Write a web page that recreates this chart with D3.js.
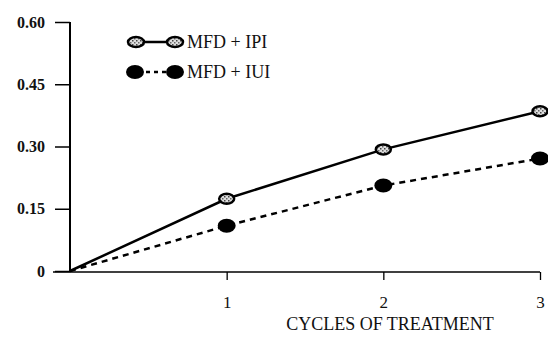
<!DOCTYPE html>
<html><head><meta charset="utf-8">
<script src="https://cdn.jsdelivr.net/npm/d3@7"></script>
<style>body{margin:0;background:#fff}svg{display:block}text{font-family:"Liberation Serif","DejaVu Serif",serif;fill:#111}</style>
</head><body><svg id="c" width="548" height="339"></svg>
<script>
const cycles = [0, 1, 2, 3];
const ipi = [0, 0.174, 0.293, 0.385];
const iui = [0, 0.109, 0.206, 0.271];
const yTicks = [0, 0.15, 0.30, 0.45, 0.60];
const yTickLabels = ["0", "0.15", "0.30", "0.45", "0.60"];
const xTicks = [1, 2, 3];
const seriesNames = ["MFD + IPI", "MFD + IUI"];

const svg = d3.select("#c");
const x = d3.scaleLinear().domain([0, 3]).range([70, 540]);
const y = d3.scaleLinear().domain([0, 0.6]).range([271, 22]);

const defs = svg.append("defs");
const pat = defs.append("pattern").attr("id","speck").attr("width",4).attr("height",4).attr("patternUnits","userSpaceOnUse");
pat.append("rect").attr("width",4).attr("height",4).attr("fill","#ddd");
pat.append("rect").attr("x",0).attr("y",0).attr("width",1.5).attr("height",1.5).attr("fill","#444");
pat.append("rect").attr("x",2).attr("y",2).attr("width",1.5).attr("height",1.5).attr("fill","#666");

// Y axis
const yAxis = svg.append("g").attr("transform", `translate(${x(0)},0)`)
  .call(d3.axisLeft(y).tickValues(yTicks).tickFormat((d,i)=>yTickLabels[i]).tickSize(15).tickPadding(10));
yAxis.select(".domain").attr("stroke","#000").attr("stroke-width",2).attr("d", `M0,${y(0)+1}V${y(0.6)}`);
yAxis.selectAll(".tick line").attr("stroke","#000").attr("stroke-width",1.5);
yAxis.selectAll("text").style("font-size","16px").style("font-weight","bold").attr("fill","#111");

// X axis
const xAxis = svg.append("g").attr("transform", `translate(0,${y(0)+1})`)
  .call(d3.axisBottom(x).tickValues(xTicks).tickFormat(d3.format("d")).tickSize(8).tickPadding(16));
xAxis.select(".domain").attr("stroke","#000").attr("stroke-width",1.5).attr("d", `M${x(0)-17},0H${x(3)}`);
xAxis.selectAll(".tick line").attr("stroke","#000").attr("stroke-width",1.3);
xAxis.selectAll("text").style("font-size","17px").attr("fill","#111");

svg.append("text").attr("x", 390).attr("y", 330).attr("text-anchor","middle")
  .style("font-size","18px").text("CYCLES OF TREATMENT");

const line = d3.line().x((d,i)=>x(cycles[i])).y(d=>y(d));
svg.append("path").datum(iui).attr("d", line).attr("fill","none").attr("stroke","#000")
  .attr("stroke-width",2.5).attr("stroke-dasharray","6,5");
svg.append("path").datum(ipi).attr("d", line).attr("fill","none").attr("stroke","#000")
  .attr("stroke-width",2.5);

const pts = cycles.slice(1);
svg.selectAll(".m1").data(pts).enter().append("ellipse")
  .attr("cx", d=>x(d)).attr("cy", (d)=>y(iui[d])).attr("rx",9).attr("ry",7).attr("fill","#000");
svg.selectAll(".m2").data(pts).enter().append("ellipse")
  .attr("cx", d=>x(d)).attr("cy", (d)=>y(ipi[d])).attr("rx",7.5).attr("ry",5)
  .attr("fill","url(#speck)").attr("stroke","#000").attr("stroke-width",2.5);

// Legend
const lg = svg.append("g");
lg.append("line").attr("x1",136).attr("x2",175).attr("y1",42).attr("y2",42).attr("stroke","#000").attr("stroke-width",2.5);
[136,175].forEach(cx=>lg.append("ellipse").attr("cx",cx).attr("cy",42).attr("rx",8).attr("ry",5)
  .attr("fill","url(#speck)").attr("stroke","#000").attr("stroke-width",2.5));
lg.append("line").attr("x1",136).attr("x2",175).attr("y1",72).attr("y2",72).attr("stroke","#000").attr("stroke-width",2.5).attr("stroke-dasharray","4,4").attr("stroke-dashoffset",-2);
[135,175].forEach(cx=>lg.append("ellipse").attr("cx",cx).attr("cy",72).attr("rx",9).attr("ry",7).attr("fill","#000"));
lg.append("text").attr("x",187).attr("y",48).style("font-size","18px").text(seriesNames[0]);
lg.append("text").attr("x",187).attr("y",78).style("font-size","18px").text(seriesNames[1]);
</script></body></html>
